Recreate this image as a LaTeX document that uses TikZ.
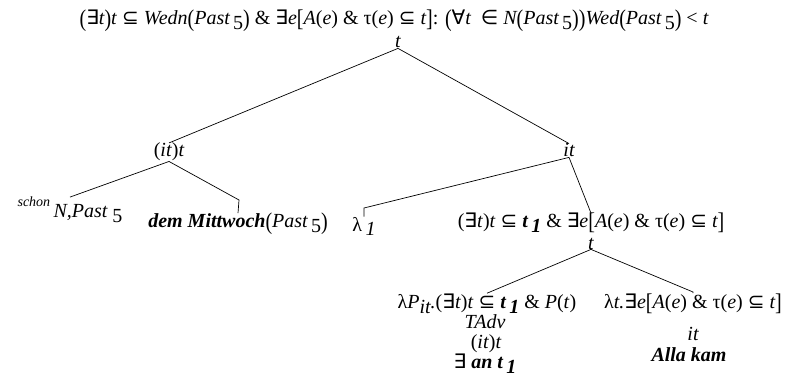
\documentclass[tikz,border=0pt]{standalone}
\usepackage{graphicx}
\usepackage{fontspec}
\setmainfont{Liberation Serif}
\newfontfamily\symf{DejaVu Sans}
\usetikzlibrary{positioning,calc}
\colorlet{treeink}{black}
\tikzset{
  lbl/.style={anchor=base, inner sep=0pt, text=treeink,
    font=\itshape\fontsize{20}{24}\selectfont},
  semlbl/.style={lbl},
  catlbl/.style={lbl},
  wordlbl/.style={lbl, font=\bfseries\itshape\fontsize{20}{24}\selectfont},
  branch/.style={draw=treeink, line width=0.7pt},
}
% symbols, lowered indices and tall brackets
\newcommand{\ex}{\textup{\symf ∃}}
\newcommand{\fa}{\textup{\symf ∀}}
\newcommand{\subs}{\textup{\symf ⊆}}
\newcommand{\elem}{\textup{\symf ∈}}
\newcommand{\amp}{\textup{\&}}
\newcommand{\lw}[1]{\raisebox{-0.25em}{#1}}
\newcommand{\tall}[1]{\raisebox{-0.1em}{\scalebox{1}[1.2]{\upshape #1}}}
\newcommand{\pa}[1]{\textup{(}#1\textup{)}}
\newcommand{\bpa}[1]{\tall{(}#1\tall{)}}
\newcommand{\bbr}[1]{\tall{[}#1\tall{]}}
\newcommand{\past}{Past\,\lw{\upshape 5}}
\newcommand{\tone}{\textbf{t\,\lw{1}}}

\begin{document}
\begin{tikzpicture}[x=1pt,y=-1pt]
  \useasboundingbox (0,0) rectangle (786,387);
  % root
  \node[semlbl] (rootsem) at (394,25)
    {\bpa{\ex t}t \subs{} Wedn\bpa{\past} \amp{} \ex e\bbr{A\pa{e} \amp{} \textup{τ}\pa{e} \subs{} t}\textup{:}
     \bpa{\fa t\ \ \elem{} N\bpa{\past}}Wed\bpa{\past} \textup{<} t};
  \node[catlbl] (root) at (398,48) {t};
  % left daughter
  \node[catlbl] (lt) at (169,157) {\pa{it}t};
  \node[lbl] (schon) at (70,207)
    {{\fontsize{14}{16}\selectfont schon}\,\raisebox{-0.55em}{N,Past\ \lw{\upshape 5}}};
  \node[wordlbl] (dem) at (238,228) {dem Mittwoch\textmd{\bpa{\past}}};
  % right daughter
  \node[catlbl] (it) at (569,157) {it};
  \node[lbl] (lam) at (364,231) {\textup{λ}\,\lw{1}};
  \node[semlbl] (midsem) at (591,228)
    {\pa{\ex t}t \subs{} \tone{} \amp{} \ex e\bbr{A\pa{e} \amp{} \textup{τ}\pa{e} \subs{} t}};
  \node[catlbl] (mid) at (591,249) {t};
  % temporal adverb
  \node[semlbl] (advsem) at (487,308)
    {\textup{λ}P\lw{it}.\pa{\ex t}t \subs{} \tone{} \amp{} P\pa{t}};
  \node[catlbl] (tadv) at (485,328) {TAdv};
  \node[catlbl] (advcat) at (486,348) {\pa{it}t};
  \node[wordlbl] (anword) at (485,368) {\textmd{\ex} an \tone};
  % verb phrase
  \node[semlbl] (vpsem) at (693,308)
    {\textup{λ}t.\ex e\bbr{A\pa{e} \amp{} \textup{τ}\pa{e} \subs{} t}};
  \node[catlbl] (vpcat) at (693,340) {it};
  \node[wordlbl] (alla) at (689,361) {Alla kam};
  % bends above the tall leaves
  \coordinate (demtop) at (239,200);
  \coordinate (lamtop) at (364,208);
  \coordinate (vptop) at (693,292);
  % branches
  \draw[branch] (root.south) -- (lt.north);
  \draw[branch] (root.south) -- (it.north);
  \draw[branch] (lt.south) -- (schon.north);
  \draw[branch] (lt.south) -- (demtop) -- (dem.north);
  \draw[branch] (it.south) -- (lamtop) -- (lam.north);
  \draw[branch] (it.south) -- (midsem.north);
  \draw[branch] (mid.south) -- (advsem.north);
  \draw[branch] (mid.south) -- (vptop) -- (vpsem.north);
\end{tikzpicture}
\end{document}
